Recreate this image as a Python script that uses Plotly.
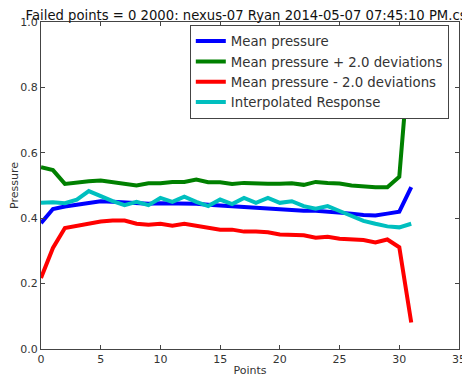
import plotly.graph_objects as go

points = list(range(32))
mean_pressure = [0.385, 0.428, 0.436, 0.442, 0.447, 0.452, 0.450, 0.447, 0.445, 0.444,
                 0.446, 0.446, 0.446, 0.444, 0.441, 0.439, 0.436, 0.432, 0.430, 0.428,
                 0.426, 0.425, 0.423, 0.423, 0.421, 0.418, 0.414, 0.410, 0.408, 0.414,
                 0.420, 0.495]
plus_dev = [0.556, 0.547, 0.505, 0.510, 0.513, 0.515, 0.510, 0.506, 0.500, 0.507,
            0.507, 0.511, 0.511, 0.518, 0.510, 0.510, 0.505, 0.508, 0.505, 0.505,
            0.505, 0.507, 0.502, 0.511, 0.508, 0.506, 0.500, 0.496, 0.495, 0.495,
            0.527, 0.970]
minus_dev = [0.217, 0.309, 0.370, 0.377, 0.383, 0.390, 0.393, 0.393, 0.383, 0.380,
             0.383, 0.377, 0.383, 0.377, 0.373, 0.365, 0.365, 0.359, 0.359, 0.357,
             0.350, 0.350, 0.348, 0.340, 0.343, 0.337, 0.335, 0.333, 0.326, 0.335,
             0.311, 0.081]
interp = [0.447, 0.449, 0.446, 0.457, 0.483, 0.467, 0.452, 0.440, 0.450, 0.440,
          0.462, 0.450, 0.466, 0.450, 0.437, 0.457, 0.443, 0.462, 0.447, 0.462,
          0.447, 0.452, 0.437, 0.429, 0.437, 0.422, 0.406, 0.392, 0.383, 0.375,
          0.372, 0.383]

series = [
    ("Mean pressure", mean_pressure, "#0000ff"),
    ("Mean pressure + 2.0 deviations", plus_dev, "#008000"),
    ("Mean pressure - 2.0 deviations", minus_dev, "#ff0000"),
    ("Interpolated Response", interp, "#00bfbf"),
]

fig = go.Figure()
for name, vals, color in series:
    fig.add_trace(go.Scatter(x=points, y=vals, mode="lines", name=name,
                             line=dict(color=color, width=4)))

font = "DejaVu Sans"
axis_common = dict(showline=True, linecolor="#444", linewidth=1, mirror="allticks",
                   ticks="inside", ticklen=4, tickcolor="#444", showgrid=False,
                   zeroline=False, automargin=False,
                   tickfont=dict(family=font, size=11, color="#333"))

# The page body adds an 8px margin, so the figure is sized to fill the rest.
fig.update_layout(
    width=462, height=369,
    margin=dict(l=33, r=11, t=14, b=28),
    paper_bgcolor="white", plot_bgcolor="white",
    title=dict(text="Failed points = 0 2000: nexus-07 Ryan 2014-05-07 07:45:10 PM.csv",
               x=0.5, xref="paper", xanchor="center", y=1, yref="container",
               yanchor="top", pad=dict(t=2.5), automargin=False,
               font=dict(family=font, size=13.2, color="#111")),
    xaxis=dict(range=[0, 35], tickvals=[0, 5, 10, 15, 20, 25, 30, 35],
               title=dict(text="Points", font=dict(family=font, size=11, color="#333"), standoff=2),
               **axis_common),
    yaxis=dict(range=[0, 1], tickvals=[0, 0.2, 0.4, 0.6, 0.8, 1.0], tickformat=".1f",
               title=dict(text="Pressure", font=dict(family=font, size=11, color="#333"), standoff=0),
               **axis_common),
    legend=dict(x=0.356, y=0.991, xanchor="left", yanchor="top",
                bgcolor="white", bordercolor="#444", borderwidth=1,
                font=dict(family=font, size=13.3, color="#333"),
                itemwidth=30, tracegroupgap=0),
    showlegend=True,
)

fig.write_html("out.html")
